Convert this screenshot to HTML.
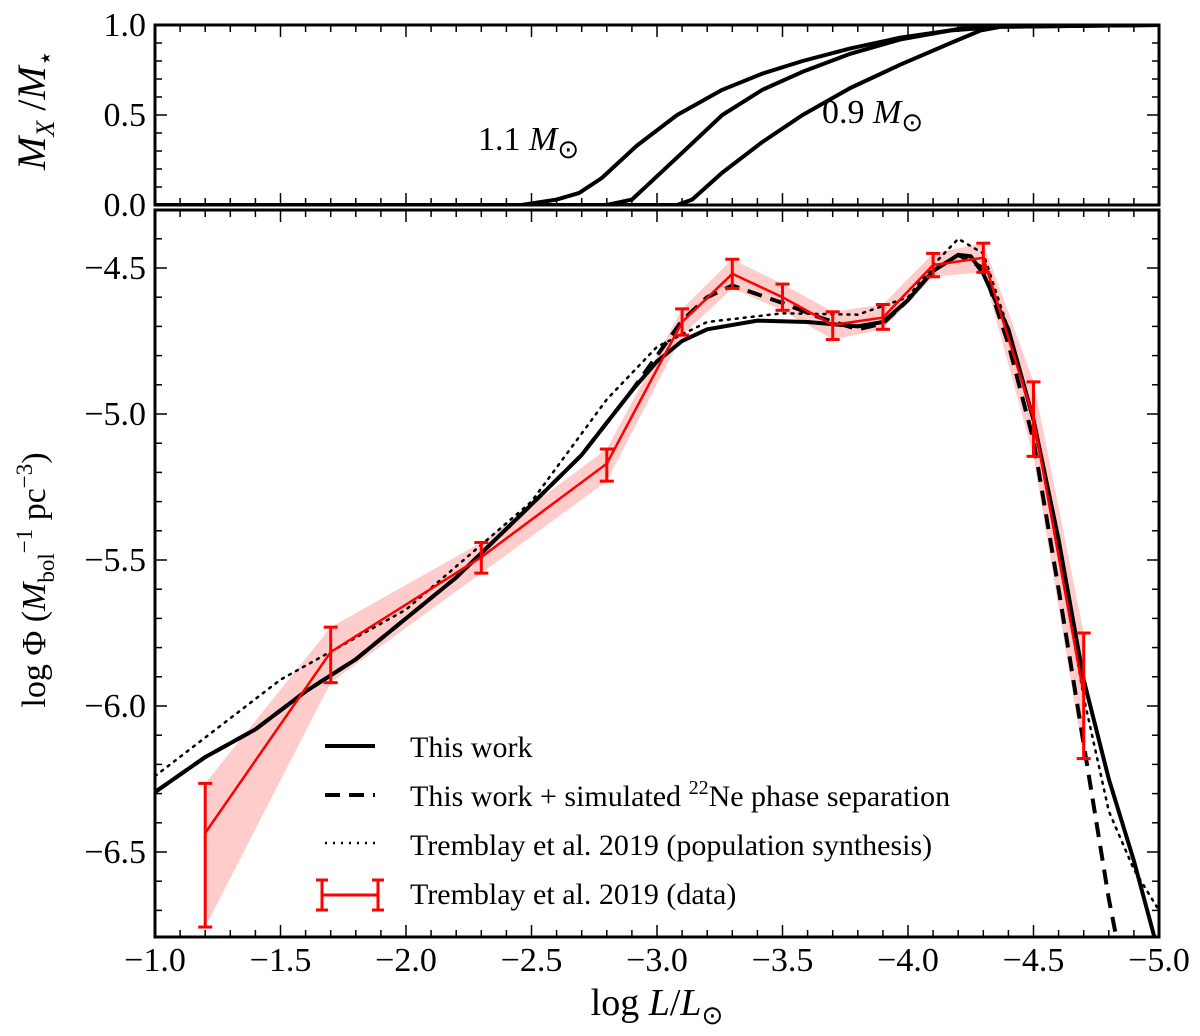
<!DOCTYPE html>
<html><head><meta charset="utf-8"><style>
html,body{margin:0;padding:0;background:#fff;}
svg{display:block;font-family:"Liberation Serif",serif;}
</style></head><body>
<svg id="chart" width="1200" height="1036" viewBox="0 0 1200 1036" xmlns="http://www.w3.org/2000/svg">
<defs>
<clipPath id="clipTop"><rect x="155" y="25" width="1004" height="180"/></clipPath>
<clipPath id="clipBot"><rect x="155" y="210" width="1004" height="727"/></clipPath>
</defs>
<g id="gTop"></g>
<g id="gBot"></g>
<g id="gAxes"></g>
<text x="478" y="150" font-size="34">1.1 <tspan font-style="italic">M</tspan><tspan font-size="26" dy="8">⊙</tspan></text>
<text x="822" y="123" font-size="34">0.9 <tspan font-style="italic">M</tspan><tspan font-size="26" dy="8">⊙</tspan></text>
<text transform="translate(45,110) rotate(-90)" text-anchor="middle" font-size="40"><tspan font-style="italic">M</tspan><tspan font-size="26" dy="9" font-style="italic">X</tspan><tspan dy="-9"> /</tspan><tspan font-style="italic">M</tspan><tspan font-size="26" dy="9">⋆</tspan></text>
<text transform="translate(45,580) rotate(-90)" text-anchor="middle" font-size="34">log Φ (<tspan font-style="italic">M</tspan><tspan font-size="23" dy="9">bol</tspan><tspan font-size="23" dy="-22">−1</tspan><tspan dy="13"> pc</tspan><tspan font-size="23" dy="-13">−3</tspan><tspan dy="13">)</tspan></text>
<text x="657" y="1015" text-anchor="middle" font-size="38">log <tspan font-style="italic">L</tspan>/<tspan font-style="italic">L</tspan><tspan font-size="26" dy="9">⊙</tspan></text>
<g>
<line x1="325" y1="746" x2="375" y2="746" stroke="#000" stroke-width="4"/>
<line x1="325" y1="795" x2="375" y2="795" stroke="#000" stroke-width="4" stroke-dasharray="15,9"/>
<line x1="325" y1="843" x2="375" y2="843" stroke="#000" stroke-width="2.5" stroke-dasharray="2,6"/>
<g stroke="red" stroke-width="3"><line x1="322" y1="895" x2="378" y2="895"/><line x1="322" y1="880" x2="322" y2="910"/><line x1="378" y1="880" x2="378" y2="910"/><line x1="316" y1="880" x2="328" y2="880"/><line x1="316" y1="910" x2="328" y2="910"/><line x1="372" y1="880" x2="384" y2="880"/><line x1="372" y1="910" x2="384" y2="910"/></g>
<g font-size="30">
<text x="410" y="757">This work</text>
<text x="410" y="806">This work + simulated <tspan font-size="20" dy="-12">22</tspan><tspan dy="12">Ne phase separation</tspan></text>
<text x="410" y="855">Tremblay et al. 2019 (population synthesis)</text>
<text x="410" y="904">Tremblay et al. 2019 (data)</text>
</g>
</g>
</svg>
<script>
// ---- data ----
const m11X = [-1.0,-2.46,-2.6,-2.69,-2.78,-2.92,-3.08,-3.26,-3.42,-3.58,-3.77,-3.97,-4.17,-4.37,-5.0];
const m11Y = [0,0,0.03,0.067,0.15,0.33,0.5,0.64,0.73,0.8,0.87,0.93,0.97,0.99,1.0];
const m10X = [-1.0,-2.8,-2.9,-3.1,-3.26,-3.42,-3.58,-3.77,-3.97,-4.21,-4.37,-5.0];
const m10Y = [0,0,0.03,0.29,0.5,0.64,0.74,0.84,0.92,0.98,0.995,1.0];
const m09X = [-1.0,-3.08,-3.14,-3.26,-3.42,-3.58,-3.77,-3.97,-4.17,-4.29,-4.37,-5.0];
const m09Y = [0,0,0.03,0.18,0.35,0.5,0.65,0.78,0.9,0.97,0.99,1.0];

const solidX = [-1.0,-1.2,-1.4,-1.6,-1.8,-2.0,-2.2,-2.5,-2.7,-2.9,-3.0,-3.1,-3.2,-3.4,-3.6,-3.8,-3.9,-4.0,-4.1,-4.2,-4.25,-4.3,-4.4,-4.5,-4.6,-4.7,-4.8,-4.9,-5.0];
const solidY = [-6.295,-6.175,-6.08,-5.95,-5.84,-5.7,-5.56,-5.31,-5.14,-4.92,-4.82,-4.75,-4.71,-4.68,-4.685,-4.7,-4.685,-4.61,-4.51,-4.455,-4.46,-4.52,-4.71,-5.02,-5.43,-5.91,-6.25,-6.53,-6.85];
const dashX = [-1.0,-1.2,-1.4,-1.6,-1.8,-2.0,-2.2,-2.5,-2.7,-2.9,-3.0,-3.1,-3.2,-3.3,-3.5,-3.65,-3.8,-3.9,-4.0,-4.1,-4.2,-4.3,-4.4,-4.5,-4.6,-4.7,-4.8,-4.9];
const dashY = [-6.295,-6.175,-6.08,-5.95,-5.84,-5.7,-5.56,-5.31,-5.14,-4.92,-4.8,-4.68,-4.6,-4.56,-4.62,-4.67,-4.71,-4.69,-4.61,-4.51,-4.455,-4.5,-4.76,-5.09,-5.6,-6.13,-6.66,-7.1];
const dotX = [-1.0,-1.5,-2.0,-2.5,-2.8,-3.0,-3.2,-3.5,-3.8,-4.0,-4.1,-4.2,-4.3,-4.4,-4.5,-4.6,-4.7,-4.8,-4.9,-5.0];
const dotY = [-6.24,-5.91,-5.67,-5.3,-4.95,-4.77,-4.685,-4.655,-4.66,-4.6,-4.49,-4.4,-4.45,-4.71,-5.02,-5.46,-5.97,-6.36,-6.56,-6.7];

const dataX = [-1.2,-1.7,-2.3,-2.8,-3.1,-3.3,-3.5,-3.7,-3.9,-4.1,-4.3,-4.5,-4.7];
const dataY = [-6.435,-5.815,-5.49,-5.17,-4.685,-4.52,-4.6,-4.695,-4.67,-4.49,-4.465,-5.015,-5.96];
const errLo = [-6.757,-5.92,-5.545,-5.23,-4.73,-4.57,-4.645,-4.745,-4.71,-4.53,-4.515,-5.145,-6.18];
const errHi = [-6.265,-5.73,-5.44,-5.12,-4.64,-4.47,-4.555,-4.65,-4.625,-4.45,-4.415,-4.89,-5.75];

const xTicks = [-1.0,-1.5,-2.0,-2.5,-3.0,-3.5,-4.0,-4.5,-5.0];
const topYTicks = [0.0,0.5,1.0];
const botYTicks = [-4.5,-5.0,-5.5,-6.0,-6.5];

// ---- scales ----
const X = v => 155 + (-1 - v) * 251;
const YT = v => 205 - v * 180;
const YB = v => 268 + (-4.5 - v) * 292;
const NS = 'http://www.w3.org/2000/svg';
function mk(tag, attrs, parent){const e=document.createElementNS(NS,tag);for(const k in attrs)e.setAttribute(k,attrs[k]);parent.appendChild(e);return e;}
const gTop=document.getElementById('gTop'), gBot=document.getElementById('gBot'), gAx=document.getElementById('gAxes');
gTop.setAttribute('clip-path','url(#clipTop)');
gBot.setAttribute('clip-path','url(#clipBot)');
function pts(xs,ys,Y){return xs.map((x,i)=>X(x).toFixed(1)+','+Y(ys[i]).toFixed(1)).join(' ');}

[[m11X,m11Y,'mass-curve-1.1'],[m10X,m10Y,'mass-curve-1.0'],[m09X,m09Y,'mass-curve-0.9']].forEach(c=>{
  const p=mk('polyline',{points:pts(c[0],c[1],YT),fill:'none',stroke:'#000','stroke-width':4,'stroke-linejoin':'round'},gTop);
  
  
});

const bandPts = dataX.map((x,i)=>X(x)+','+YB(errHi[i])).concat(dataX.slice().reverse().map((x,j)=>{const i=dataX.length-1-j;return X(x)+','+YB(errLo[i]);})).join(' ');
const band=mk('polygon',{points:bandPts,fill:'#ffcccc',stroke:'none'},gBot);



const dotL=mk('polyline',{points:pts(dotX,dotY,YB),fill:'none',stroke:'#000','stroke-width':2.5,'stroke-dasharray':'2,6','stroke-linecap':'round'},gBot);


const dashL=mk('polyline',{points:pts(dashX,dashY,YB),fill:'none',stroke:'#000','stroke-width':4,'stroke-dasharray':'15,9'},gBot);


const solL=mk('polyline',{points:pts(solidX,solidY,YB),fill:'none',stroke:'#000','stroke-width':4,'stroke-linejoin':'round'},gBot);


const dataL=mk('polyline',{points:pts(dataX,dataY,YB),fill:'none',stroke:'red','stroke-width':2.5},gBot);


dataX.forEach((x,i)=>{
  const g=mk('g',{stroke:'red','stroke-width':3},gBot);
  
  
  const px=X(x),a=YB(errHi[i]),b=YB(errLo[i]);
  mk('line',{x1:px,y1:a,x2:px,y2:b},g);
  mk('line',{x1:px-7,y1:a,x2:px+7,y2:a},g);
  mk('line',{x1:px-7,y1:b,x2:px+7,y2:b},g);
});

mk('rect',{x:155,y:25,width:1004,height:180,fill:'none',stroke:'#000','stroke-width':3},gAx);
mk('rect',{x:155,y:210,width:1004,height:727,fill:'none',stroke:'#000','stroke-width':3},gAx);
for(let k=0;k<=40;k++){
  const v=-1-k*0.1, px=X(v), L=(k%5===0)?12:7;
  [[25,1],[205,-1],[210,1],[937,-1]].forEach(([y,d])=>mk('line',{x1:px,y1:y,x2:px,y2:y+d*L,stroke:'#000','stroke-width':1.5},gAx));
}
xTicks.forEach(v=>{const t=mk('text',{x:X(v),y:971,'text-anchor':'middle','font-size':34},gAx);t.textContent='−'+Math.abs(v).toFixed(1);
  
  });
for(let k=0;k<=10;k++){const py=YT(k/10),L=(k%5===0)?12:7;
  mk('line',{x1:155,y1:py,x2:155+L,y2:py,stroke:'#000','stroke-width':1.5},gAx);
  mk('line',{x1:1159,y1:py,x2:1159-L,y2:py,stroke:'#000','stroke-width':1.5},gAx);}
topYTicks.forEach(v=>{const t=mk('text',{x:146,y:YT(v)+11,'text-anchor':'end','font-size':34},gAx);t.textContent=v.toFixed(1);
  
  });
for(let k=-2;k<=22;k++){const v=-4.5-k*0.1,py=YB(v);if(py<212||py>935)continue;const L=(Math.abs(k)%5===0)?12:7;
  mk('line',{x1:155,y1:py,x2:155+L,y2:py,stroke:'#000','stroke-width':1.5},gAx);
  mk('line',{x1:1159,y1:py,x2:1159-L,y2:py,stroke:'#000','stroke-width':1.5},gAx);}
botYTicks.forEach(v=>{const t=mk('text',{x:146,y:YB(v)+11,'text-anchor':'end','font-size':34},gAx);t.textContent='−'+Math.abs(v).toFixed(1);
  
  });
</script>
</body></html>
